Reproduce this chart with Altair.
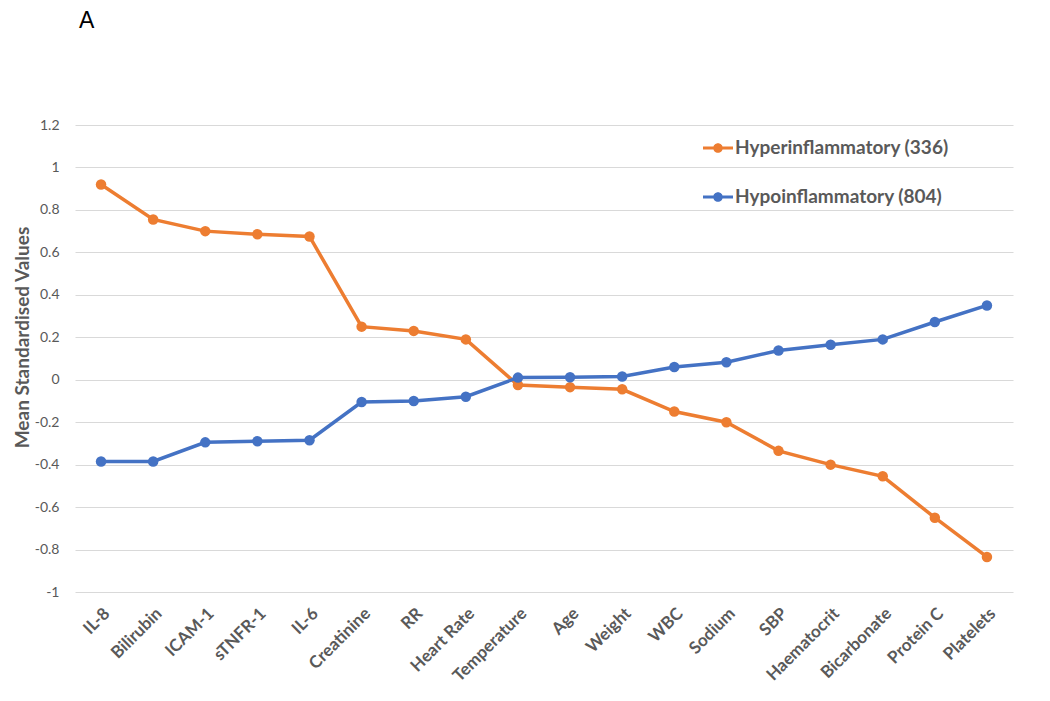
import altair as alt
import pandas as pd

categories = ["IL-8", "Bilirubin", "ICAM-1", "sTNFR-1", "IL-6", "Creatinine", "RR",
              "Heart Rate", "Temperature", "Age", "Weight", "WBC", "Sodium", "SBP",
              "Haematocrit", "Bicarbonate", "Protein C", "Platelets"]
hyper = [0.92, 0.755, 0.70, 0.685, 0.675, 0.25, 0.23, 0.19, -0.025, -0.035, -0.045,
         -0.15, -0.20, -0.335, -0.40, -0.455, -0.65, -0.835]
hypo = [-0.385, -0.385, -0.295, -0.29, -0.285, -0.105, -0.10, -0.08, 0.01, 0.012,
        0.015, 0.06, 0.082, 0.138, 0.165, 0.19, 0.272, 0.35]
series_names = ["Hyperinflammatory (336)", "Hypoinflammatory (804)"]
series_colors = ["#ED7D31", "#4472C4"]
y_ticks = [-1, -0.8, -0.6, -0.4, -0.2, 0, 0.2, 0.4, 0.6, 0.8, 1, 1.2]

rows = []
for name, vals in zip(series_names, [hyper, hypo]):
    for c, v in zip(categories, vals):
        rows.append({"Variable": c, "Value": v, "Group": name})
df = pd.DataFrame(rows)

FONT = "Lato"
GREY = "#595959"

x_enc = alt.X("Variable:N", sort=categories,
              axis=alt.Axis(title=None, labelAngle=-45, labelFont=FONT, labelFontWeight="bold",
                            labelFontSize=17, labelColor=GREY, domain=False, ticks=False,
                            labelPadding=13, grid=False))
y_enc = alt.Y("Value:Q", scale=alt.Scale(domain=[-1, 1.2], nice=False),
              axis=alt.Axis(title="Mean  Standardised Values", values=y_ticks,
                            labelExpr="replace(format(datum.value, '.1~f'), '\u2212', '-')",
                            titleFont=FONT, titleFontSize=19, titleFontWeight="bold",
                            titleColor=GREY, titlePadding=2, titleY=212,
                            labelFont=FONT, labelFontSize=14, labelColor=GREY,
                            labelPadding=16, domain=False, ticks=False,
                            grid=True, gridColor="#D9D9D9", gridWidth=1))
color_scale = alt.Scale(domain=series_names, range=series_colors)

symbol_path = ("M-1,-0.1L1,-0.1L1,0.1L-1,0.1Z "
               "M-0.32,0A0.32,0.32 0 1,1 0.32,0A0.32,0.32 0 1,1 -0.32,0Z")

lines = alt.Chart(df).mark_line(strokeWidth=3.5).encode(
    x=x_enc, y=y_enc,
    stroke=alt.Stroke("Group:N", scale=color_scale, legend=None),
    detail="Group:N",
)
points = alt.Chart(df).mark_point(filled=True, size=110, opacity=1).encode(
    x=x_enc, y=y_enc,
    color=alt.Color("Group:N", scale=color_scale,
                    legend=alt.Legend(title=None, orient="none", legendX=628, legendY=8,
                                      symbolType=symbol_path, symbolSize=900,
                                      symbolOpacity=1, labelLimit=0,
                                      labelFont=FONT, labelFontSize=19, labelFontWeight="bold",
                                      labelColor=GREY, rowPadding=24, symbolStrokeWidth=0,
                                      labelOffset=2)),
)

chart = alt.layer(lines, points).resolve_scale(color="independent", stroke="independent").properties(
    width=938, height=467,
    title=alt.TitleParams("A", anchor="start", frame="group", font="Liberation Sans",
                          fontSize=23, fontWeight="normal", color="#000000",
                          offset=85, dx=4),
    autosize=alt.AutoSizeParams(type="none"),
    padding={"left": 67, "top": 117, "right": 20, "bottom": 100},
).configure_view(stroke=None)

chart.save("out.html", embed_options={"renderer": "svg", "actions": False})
